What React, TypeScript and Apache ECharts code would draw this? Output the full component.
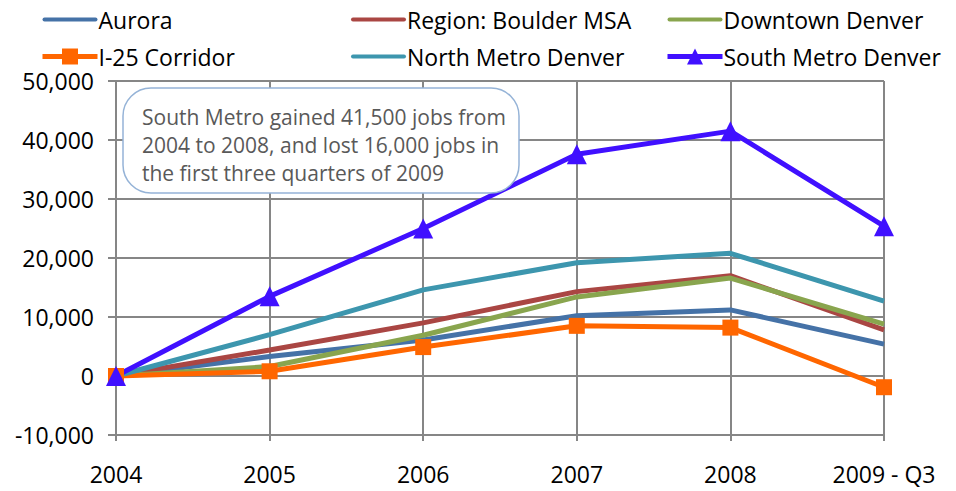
import React, { useEffect, useRef } from "react";
import * as echarts from "echarts";

const categories = ["2004", "2005", "2006", "2007", "2008", "2009 - Q3"];
const aurora = [0, 3300, 6100, 10200, 11200, 5400];
const boulder = [0, 4400, 9000, 14300, 17000, 7800];
const downtown = [0, 1600, 6900, 13400, 16600, 8800];
const i25 = [0, 800, 4900, 8500, 8200, -1900];
const northMetro = [0, 7000, 14600, 19200, 20800, 12700];
const southMetro = [0, 13500, 25000, 37600, 41500, 25400];
const annotation = "South Metro gained 41,500 jobs from\n2004 to 2008, and lost 16,000 jobs in\nthe first three quarters of 2009";

const FONT = "'Open Sans', 'Noto Sans', sans-serif";
const LINE_ICON = "path://M0,0 M0,20 M2,8 L53,8 A2,2 0 0 1 53,12 L2,12 A2,2 0 0 1 2,8 Z";

export default function App() {
  const ref = useRef<HTMLDivElement>(null);
  useEffect(() => {
    if (!ref.current) return;
    const chart = echarts.init(ref.current, undefined, { renderer: "svg" });
    const line = (name: string, data: number[], color: string, symbol = "none", size = 0) => ({
      name,
      type: "line",
      data,
      symbol,
      symbolSize: size,
      showSymbol: symbol !== "none",
      lineStyle: { color, width: 5 },
      itemStyle: { color },
      emphasis: { disabled: true },
    });
    const legendBase = {
      orient: "vertical",
      top: 3,
      itemGap: 14,
      itemWidth: 55,
      itemHeight: 20,
      lineStyle: { width: 5 },
      textStyle: { fontSize: 23, color: "#000", fontFamily: FONT, padding: [0, 0, 0, -4] },
    };
    chart.setOption({
      animation: false,
      textStyle: { fontFamily: FONT },
      legend: [
        { ...legendBase, left: 35, data: [{ name: "Aurora", icon: LINE_ICON }, "I-25 Corridor"] },
        {
          ...legendBase,
          left: 346,
          data: [
            { name: "Region: Boulder MSA", icon: LINE_ICON },
            { name: "North Metro Denver", icon: LINE_ICON },
          ],
        },
        { ...legendBase, left: 660, data: [{ name: "Downtown Denver", icon: LINE_ICON }, "South Metro Denver"] },
      ],
      grid: { left: 116, right: 72, top: 81, bottom: 56 },
      xAxis: {
        type: "category",
        data: categories,
        boundaryGap: false,
        axisLine: { show: true, onZero: false, lineStyle: { color: "#868686", width: 2 } },
        axisTick: { show: true, length: 6, lineStyle: { color: "#868686", width: 2 } },
        splitLine: { show: true, lineStyle: { color: "#868686", width: 2 } },
        axisLabel: { fontSize: 23, color: "#000", margin: 27, fontFamily: FONT },
      },
      yAxis: {
        type: "value",
        min: -10000,
        max: 50000,
        interval: 10000,
        axisLine: { show: false },
        axisTick: { show: true, length: 8, lineStyle: { color: "#868686", width: 2 } },
        splitLine: { show: true, lineStyle: { color: "#868686", width: 2 } },
        axisLabel: {
          fontSize: 23,
          color: "#000",
          margin: 22,
          fontFamily: FONT,
          formatter: (v: number) => v.toLocaleString("en-US"),
        },
      },
      series: [
        line("Aurora", aurora, "#4572A7"),
        line("Region: Boulder MSA", boulder, "#AA4643"),
        line("Downtown Denver", downtown, "#89A54E"),
        line("I-25 Corridor", i25, "#FF6600", "rect", 16),
        line("North Metro Denver", northMetro, "#3D96AE"),
        line("South Metro Denver", southMetro, "#4010FF", "triangle", 20),
      ],
      graphic: [
        {
          type: "rect",
          z: 100,
          shape: { x: 123, y: 88, width: 396, height: 105, r: 28 },
          style: { fill: "#fff", stroke: "#95b3d7", lineWidth: 1.5 },
        },
        {
          type: "text",
          z: 101,
          x: 142,
          y: 103,
          style: {
            text: annotation,
            fontSize: 21,
            lineHeight: 28,
            fill: "#595959",
            fontFamily: FONT,
          },
        },
      ],
    });
    return () => chart.dispose();
  }, []);
  return (
    <div
      ref={ref}
      style={{ position: "absolute", left: 0, top: 0, width: 956, height: 491 }}
    />
  );
}
